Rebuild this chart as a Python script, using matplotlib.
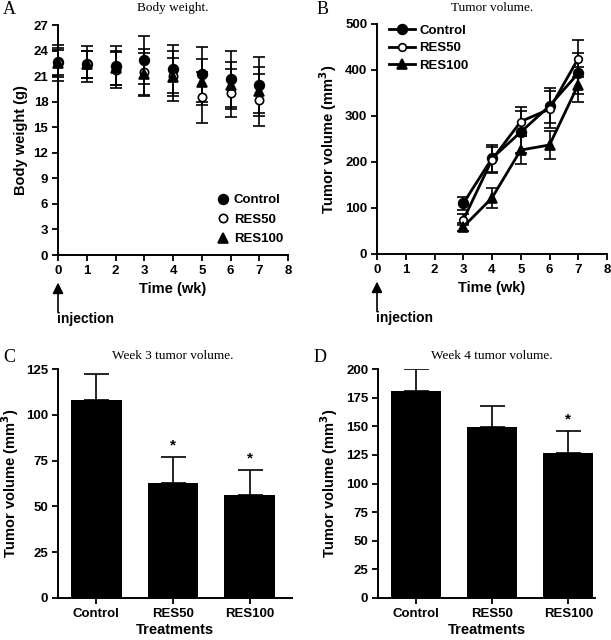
import numpy as np
import matplotlib
matplotlib.use("Agg")
import matplotlib.pyplot as plt

plt.rcParams['font.family'] = ['Liberation Sans', 'DejaVu Sans']
plt.rcParams['font.weight'] = 'bold'
plt.rcParams['axes.linewidth'] = 1.4

# ---- data ----
groups = ["Control", "RES50", "RES100"]

bw_weeks = [0, 1, 2, 3, 4, 5, 6, 7]
bw_control = [22.7, 22.4, 22.2, 22.9, 21.8, 21.2, 20.7, 20.0]
bw_control_se = [1.6, 2.1, 2.3, 2.8, 2.8, 3.2, 3.3, 3.3]
bw_res50 = [22.5, 22.4, 21.7, 21.5, 21.0, 18.5, 19.0, 18.2]
bw_res50_se = [2.1, 1.6, 2.1, 2.7, 2.9, 3.0, 2.8, 3.0]
bw_res100 = [22.5, 22.4, 21.9, 21.2, 20.9, 20.3, 19.9, 19.2]
bw_res100_se = [1.6, 1.6, 2.0, 2.5, 2.2, 2.7, 2.8, 2.9]

tv_weeks = [3, 4, 5, 6, 7]
tv_control = [110, 208, 265, 322, 393]
tv_control_se = [14, 30, 45, 38, 45]
tv_res50 = [74, 205, 288, 315, 425]
tv_res50_se = [12, 28, 32, 40, 40]
tv_res100 = [59, 122, 226, 237, 368]
tv_res100_se = [8, 22, 30, 30, 38]

wk3_mean = [108, 63, 56]
wk3_se = [14, 14, 14]
wk3_sig = ["", "*", "*"]

wk4_mean = [181, 149, 127]
wk4_se = [19, 19, 19]
wk4_sig = ["", "", "*"]

W, H = 611, 640
fig = plt.figure(figsize=(W / 100, H / 100), dpi=100)


def box(l, t, r, b):
    return [l / W, 1 - b / H, (r - l) / W, (b - t) / H]


def style(ax):
    ax.spines['top'].set_visible(False)
    ax.spines['right'].set_visible(False)
    ax.tick_params(direction='out', length=4, width=1.3, labelsize=9.5, pad=3)
    for lab in ax.get_xticklabels() + ax.get_yticklabels():
        lab.set_fontweight('bold')


def injection(ax):
    tr = ax.get_xaxis_transform()
    ax.annotate('', xy=(0, -0.12), xytext=(0, -0.25), xycoords=tr, textcoords=tr,
                arrowprops=dict(arrowstyle='-|>', color='k', lw=1.2, mutation_scale=16,
                                shrinkA=0, shrinkB=0),
                annotation_clip=False)
    ax.text(-0.02, -0.28, 'injection', transform=tr, ha='left', va='center',
            fontsize=10, fontweight='bold')


serif = dict(family=['Liberation Serif', 'DejaVu Serif'], fontweight='normal')

# ---- A: body weight ----
axA = fig.add_axes(box(58, 25, 288, 255))
series = [(bw_control, bw_control_se, dict(marker='o', mfc='k', ms=7)),
          (bw_res50, bw_res50_se, dict(marker='o', mfc='white', ms=6)),
          (bw_res100, bw_res100_se, dict(marker='^', mfc='k', ms=7))]
for (y, e, st), name in zip(series, groups):
    axA.errorbar(bw_weeks, y, yerr=e, ls='none', color='k', mec='k', mew=1.2,
                 elinewidth=1.2, capsize=4, capthick=1.2, label=name, **st)
axA.set_xlim(0, 8)
axA.set_ylim(0, 27)
axA.set_xticks(range(0, 9))
axA.set_yticks(range(0, 28, 3))
axA.set_xlabel('Time (wk)', fontsize=10.5, fontweight='bold', labelpad=4)
axA.set_ylabel('Body weight (g)', fontsize=10.5, fontweight='bold', labelpad=4)
style(axA)
for c in axA.get_children():
    c.set_clip_on(False)
h, l = axA.get_legend_handles_labels()
h = [x[0] for x in h]
axA.legend(h, l, loc='lower right', bbox_to_anchor=(1.03, -0.01), frameon=False,
           prop=dict(size=9.5, weight='bold'), handlelength=0.8, handletextpad=0.4,
           labelspacing=0.55)
injection(axA)

# ---- B: tumor volume ----
axB = fig.add_axes(box(377, 24, 607, 254))
series = [(tv_control, tv_control_se, dict(marker='o', mfc='k', ms=7)),
          (tv_res50, tv_res50_se, dict(marker='o', mfc='white', ms=5.5)),
          (tv_res100, tv_res100_se, dict(marker='^', mfc='k', ms=7))]
for (y, e, st), name in zip(series, groups):
    axB.errorbar(tv_weeks, y, yerr=e, color='k', lw=2, mec='k', mew=1.2,
                 elinewidth=1.2, capsize=4, capthick=1.2, label=name, **st)
axB.set_xlim(0, 8)
axB.set_ylim(0, 500)
axB.set_xticks(range(0, 9))
axB.set_yticks(range(0, 501, 100))
axB.set_xlabel('Time (wk)', fontsize=10.5, fontweight='bold', labelpad=4)
axB.set_ylabel('Tumor volume (mm$^\\mathbf{3}$)', fontsize=10.5, fontweight='bold', labelpad=4)
style(axB)
h, l = axB.get_legend_handles_labels()
h = [x[0] for x in h]
axB.legend(h, l, loc='upper left', bbox_to_anchor=(0.0, 1.05), frameon=False,
           prop=dict(size=9.5, weight='bold'), handlelength=2.0, handletextpad=0.3,
           labelspacing=0.4)
injection(axB)


# ---- C, D: bar charts ----
def bars(ax, mean, se, sig, ymax, step, xr):
    x = np.arange(len(groups))
    ax.bar(x, mean, width=0.66, color='k')
    ax.errorbar(x, mean, yerr=[np.zeros(len(se)), se], ls='none', color='k',
                elinewidth=1.2, capsize=9, capthick=1.2)
    for xi, m, e, s in zip(x, mean, se, sig):
        if s:
            ax.text(xi, m + e + ymax * 0.02, s, ha='center', va='bottom',
                    fontsize=11, fontweight='bold')
    ax.set_xlim(-0.5, xr)
    ax.set_ylim(0, ymax)
    ax.set_xticks(x)
    ax.set_xticklabels(groups)
    ax.set_yticks(np.arange(0, ymax + 1, step))
    ax.tick_params(axis='x', pad=4)
    ax.set_xlabel('Treatments', fontsize=10.5, fontweight='bold', labelpad=2)
    ax.set_ylabel('Tumor volume (mm$^\\mathbf{3}$)', fontsize=10.5, fontweight='bold', labelpad=4)
    style(ax)


axC = fig.add_axes(box(58, 369, 292, 598))
bars(axC, wk3_mean, wk3_se, wk3_sig, 125, 25, 2.55)

axD = fig.add_axes(box(378, 369, 595, 598))
bars(axD, wk4_mean, wk4_se, wk4_sig, 200, 25, 2.35)

# ---- titles and panel letters ----
fig.text(173 / W, 1 - 8 / H, 'Body weight.', ha='center', va='center', fontsize=9.5, **serif)
fig.text(492 / W, 1 - 8 / H, 'Tumor volume.', ha='center', va='center', fontsize=9.5, **serif)
fig.text(173 / W, 1 - 356 / H, 'Week 3 tumor volume.', ha='center', va='center', fontsize=9.5, **serif)
fig.text(492 / W, 1 - 356 / H, 'Week 4 tumor volume.', ha='center', va='center', fontsize=9.5, **serif)
for x, y, s in [(3, 9, 'A'), (317, 9, 'B'), (3, 357, 'C'), (314, 357, 'D')]:
    fig.text(x / W, 1 - y / H, s, ha='left', va='center', fontsize=13, **serif)

fig.savefig('out.png', dpi=100)
